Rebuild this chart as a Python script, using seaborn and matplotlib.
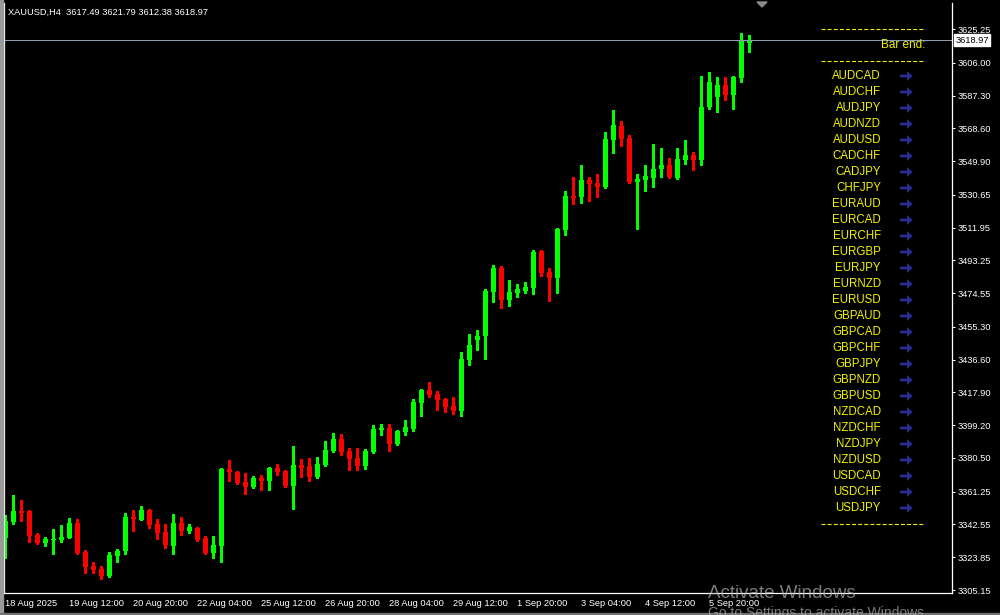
import numpy as np
import pandas as pd
import matplotlib
matplotlib.use("Agg")
import matplotlib.pyplot as plt
import seaborn as sns
from matplotlib.lines import Line2D
from matplotlib.patches import Polygon, Rectangle, FancyArrow

# --- data ---
symbol_title = "XAUUSD,H4  3617.49 3621.79 3612.38 3618.97"
last_price = 3618.97

opens = [3334.99, 3344.12, 3350.23, 3350.23, 3336.53, 3331.97, 3333.68, 3333.68, 3334.99, 3343.38,
         3327.00, 3319.02, 3317.13, 3313.31, 3324.72, 3327.40, 3346.80, 3345.26, 3350.80, 3342.98,
         3338.42, 3330.43, 3343.38, 3338.82, 3340.53, 3334.82, 3326.26, 3330.43, 3374.19, 3372.48,
         3366.77, 3363.92, 3369.06, 3367.35, 3374.76, 3373.05, 3364.66, 3376.48, 3375.90, 3369.63,
         3376.48, 3384.46, 3391.31, 3384.46, 3380.47, 3375.90, 3383.89, 3396.45, 3397.59, 3388.46,
         3395.30, 3397.02, 3411.85, 3419.27, 3416.99, 3414.13, 3410.14, 3407.29, 3436.39, 3447.80,
         3450.08, 3475.19, 3488.88, 3470.62, 3474.62, 3475.76, 3477.47, 3498.58, 3486.60, 3483.18,
         3510.57, 3529.97, 3529.40, 3539.10, 3537.38, 3535.10, 3561.92, 3569.91, 3563.06, 3537.95,
         3539.10, 3540.24, 3545.37, 3547.66, 3540.24, 3550.51, 3553.36, 3550.51, 3580.75, 3586.46,
         3593.30, 3587.60, 3597.30, 3617.49]
highs = [3347.95, 3359.36, 3356.50, 3350.80, 3337.67, 3335.39, 3339.96, 3342.24, 3346.40, 3345.66,
         3328.15, 3321.30, 3319.02, 3327.00, 3328.54, 3349.09, 3350.80, 3353.08, 3351.37, 3345.66,
         3342.81, 3348.52, 3346.80, 3342.81, 3341.10, 3335.96, 3335.96, 3374.76, 3379.33, 3373.05,
         3371.91, 3370.20, 3370.77, 3375.33, 3377.05, 3373.62, 3387.32, 3379.90, 3380.47, 3381.04,
         3390.17, 3394.73, 3394.16, 3386.18, 3386.18, 3385.60, 3399.30, 3399.87, 3399.87, 3396.45,
         3402.15, 3414.13, 3419.84, 3423.83, 3418.70, 3414.71, 3415.28, 3440.95, 3451.22, 3453.51,
         3476.90, 3490.60, 3490.03, 3482.04, 3479.75, 3480.89, 3499.15, 3499.15, 3488.88, 3511.71,
         3532.82, 3540.81, 3547.66, 3540.81, 3542.52, 3566.48, 3579.04, 3572.76, 3564.77, 3542.52,
         3547.66, 3559.64, 3557.36, 3551.65, 3557.36, 3561.92, 3555.07, 3598.44, 3600.72, 3597.87,
         3597.87, 3598.44, 3622.97, 3621.79]
lows = [3323.58, 3342.98, 3344.69, 3332.71, 3331.57, 3330.43, 3325.86, 3332.71, 3334.54, 3325.86,
        3314.85, 3314.85, 3311.43, 3312.57, 3321.30, 3325.86, 3338.82, 3344.81, 3340.70, 3334.25,
        3329.29, 3325.86, 3336.53, 3337.67, 3333.11, 3325.69, 3323.58, 3321.30, 3367.35, 3365.80,
        3360.10, 3363.35, 3362.38, 3362.38, 3370.77, 3364.09, 3351.37, 3369.63, 3367.35, 3369.06,
        3375.90, 3383.89, 3382.18, 3373.62, 3373.62, 3374.19, 3383.32, 3393.59, 3384.46, 3387.89,
        3393.59, 3395.88, 3404.43, 3415.28, 3407.86, 3406.72, 3405.58, 3404.43, 3433.54, 3442.09,
        3436.96, 3469.48, 3466.06, 3467.20, 3472.34, 3474.62, 3474.05, 3484.49, 3470.05, 3474.62,
        3507.71, 3525.40, 3525.97, 3527.11, 3529.40, 3534.53, 3554.50, 3558.50, 3537.38, 3511.14,
        3532.82, 3535.10, 3540.81, 3540.24, 3539.67, 3548.23, 3544.80, 3547.66, 3579.61, 3577.90,
        3584.74, 3579.61, 3595.01, 3612.38]
closes = [3344.52, 3350.23, 3349.26, 3336.13, 3331.97, 3334.25, 3334.25, 3335.39, 3343.38, 3326.26,
          3318.27, 3316.73, 3313.31, 3325.12, 3327.40, 3346.80, 3345.66, 3350.80, 3342.24, 3337.85,
          3330.83, 3343.38, 3338.82, 3341.10, 3333.68, 3326.26, 3330.83, 3374.19, 3372.65, 3366.20,
          3363.92, 3369.06, 3367.35, 3374.76, 3372.48, 3364.66, 3376.48, 3374.94, 3369.80, 3377.05,
          3385.03, 3391.31, 3384.07, 3379.90, 3375.90, 3384.46, 3397.02, 3397.59, 3388.46, 3395.88,
          3398.16, 3412.42, 3419.27, 3416.42, 3413.56, 3409.57, 3407.29, 3436.96, 3444.95, 3450.08,
          3475.76, 3488.88, 3470.62, 3475.19, 3476.90, 3478.04, 3498.01, 3486.03, 3483.18, 3511.14,
          3529.97, 3528.83, 3539.10, 3536.81, 3535.10, 3562.49, 3570.48, 3562.49, 3537.95, 3539.67,
          3541.38, 3545.37, 3547.66, 3540.81, 3551.08, 3553.36, 3550.51, 3580.75, 3595.01, 3593.30,
          3587.60, 3597.87, 3618.41, 3618.97]

date_labels = ["18 Aug 2025", "19 Aug 12:00", "20 Aug 20:00", "22 Aug 04:00", "25 Aug 12:00",
               "26 Aug 20:00", "28 Aug 04:00", "29 Aug 12:00", "1 Sep 20:00", "3 Sep 04:00",
               "4 Sep 12:00", "5 Sep 20:00"]
bars_per_label = 8

price_ticks = [3625.25, 3606.00, 3587.30, 3568.60, 3549.90, 3530.65, 3511.95, 3493.25, 3474.55,
               3455.30, 3436.60, 3417.90, 3399.20, 3380.50, 3361.25, 3342.55, 3323.85, 3305.15]

pairs = ["AUDCAD", "AUDCHF", "AUDJPY", "AUDNZD", "AUDUSD", "CADCHF", "CADJPY", "CHFJPY",
         "EURAUD", "EURCAD", "EURCHF", "EURGBP", "EURJPY", "EURNZD", "EURUSD", "GBPAUD",
         "GBPCAD", "GBPCHF", "GBPJPY", "GBPNZD", "GBPUSD", "NZDCAD", "NZDCHF", "NZDJPY",
         "NZDUSD", "USDCAD", "USDCHF", "USDJPY"]

# --- styling ---
sns.set_style("dark", rc={"axes.facecolor": "black", "figure.facecolor": "black",
                          "axes.edgecolor": "white", "text.color": "white",
                          "xtick.color": "white", "ytick.color": "white"})
plt.rcParams['font.family'] = ['Liberation Sans', 'DejaVu Sans']

W, H = 1000, 615
fx = lambda px: px / W
fy = lambda py: 1 - py / H

df = pd.DataFrame({"open": opens, "high": highs, "low": lows, "close": closes})
df["bar"] = np.arange(len(df))
df["up"] = df["close"] >= df["open"]
df["color"] = np.where(df["up"], "#00ff00", "#ff0000")
df["bottom"] = df[["open", "close"]].min(axis=1)
df["height"] = (df["close"] - df["open"]).abs().clip(lower=0.6)

fig = plt.figure(figsize=(10, 6.15), dpi=100)
ax = fig.add_axes([fx(4), fy(593), 948 / W, 590 / H])

ax.vlines(df["bar"], df["low"], df["high"], colors=df["color"], linewidth=0.75, antialiased=False)
ax.bar(df["bar"], df["height"], bottom=df["bottom"], width=0.62, color=df["color"],
       linewidth=0, antialiased=False)

ax.axhline(last_price, color="#8c9cb2", lw=0.75)

ax.set_xlim(-0.1625, 118.34)
ax.set_ylim(3303.44, 3640.09)

ax.set_xticks(df["bar"].iloc[::bars_per_label][:len(date_labels)])
ax.set_xticklabels(date_labels, ha="left", fontsize=6.7)
ax.yaxis.tick_right()
ax.set_yticks(price_ticks)
ax.set_yticklabels([f"{p:.2f}" for p in price_ticks], fontsize=6.7)
ax.tick_params(axis="x", length=2.5, width=0.75, pad=2, colors="white")
ax.tick_params(axis="y", length=2.5, width=0.75, pad=1.5, colors="white")
ax.grid(False)
for side in ["left", "bottom", "right"]:
    ax.spines[side].set_color("white")
    ax.spines[side].set_linewidth(0.9)
ax.spines["top"].set_visible(False)

# current price box
ax.text(1.0035, last_price, f"{last_price:.2f}", transform=ax.get_yaxis_transform(),
        ha="left", va="center", fontsize=6.7, color="black", clip_on=False,
        bbox=dict(boxstyle="square,pad=0.18", facecolor="white", edgecolor="white"))

# title
fig.text(fx(8), fy(12), symbol_title, ha="left", va="center", fontsize=6.7, color="white")

# indicator panel
yellow = "#f2f200"
dash = dict(color=yellow, lw=0.8, linestyle=(0, (3.6, 1.9)))
for py in [29, 61, 524]:
    fig.add_artist(Line2D([fx(821), fx(924)], [fy(py), fy(py)], **dash))
fig.text(fx(925), fy(45), "Bar end:", ha="right", va="center", fontsize=8.5, color=yellow)
for i, name in enumerate(pairs):
    py = 76 + 16 * i
    fig.text(fx(881), fy(py), name, ha="right", va="center", fontsize=8.3, color=yellow)
    fig.add_artist(FancyArrow(9.00, (H - py) / 100, 0.125, 0, width=0.026, head_width=0.095,
                              head_length=0.055, length_includes_head=True, color="#2b2b94",
                              linewidth=0, transform=fig.dpi_scale_trans))

# chart shift marker and window edges
fig.add_artist(Polygon([[fx(757), fy(2)], [fx(767), fy(2)], [fx(762), fy(7)]],
                       closed=True, color="#8a8a8a"))
fig.add_artist(Rectangle((0, 0), fx(3), 1, color="#9a9a9a"))
fig.add_artist(Rectangle((0, 0), 1, 2 / H, color="#707070"))

# OS watermark
fig.text(fx(708), fy(593), "Activate Windows", ha="left", va="center", fontsize=13.5,
         color="#b0b0b0", alpha=0.7)
fig.text(fx(708), fy(613), "Go to Settings to activate Windows.", ha="left", va="center",
         fontsize=10, color="#b0b0b0", alpha=0.7)

fig.savefig("out.png", dpi=100, facecolor="black")
